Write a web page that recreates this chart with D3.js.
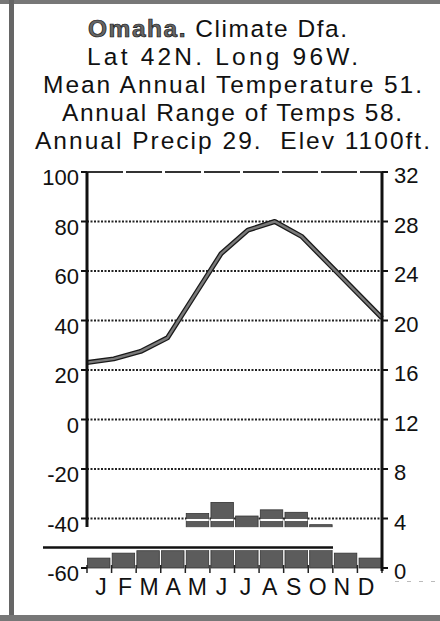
<!DOCTYPE html>
<html>
<head>
<meta charset="utf-8">
<script src="https://cdn.jsdelivr.net/npm/d3@7"></script>
<style>
  html, body { margin: 0; padding: 0; background: #fff; }
  svg { display: block; }
  text { font-family: "Liberation Sans", Arial, Helvetica, sans-serif; fill: #111; white-space: pre; }
</style>
</head>
<body>
<svg id="chart" width="440" height="621"></svg>
<script>
// ---- data ----
const months = ["J","F","M","A","M","J","J","A","S","O","N","D"];
const tempF = [23, 24.5, 27.5, 33, 50, 67, 76.5, 80, 74, 63, 52, 41];
const precip = [0.8, 1.2, 1.4, 1.4, 4.4, 5.3, 4.2, 4.7, 4.5, 3.5, 1.2, 0.8];
const tempTicks = [100, 80, 60, 40, 20, 0, -20, -40, -60];
const precipTicks = [32, 28, 24, 20, 16, 12, 8, 4, 0];
const titleLines = [
  "Omaha. Climate Dfa.",
  "Lat 42N. Long 96W.",
  "Mean Annual Temperature 51.",
  "Annual Range of Temps 58.",
  "Annual Precip 29.  Elev 1100ft."
];

const svg = d3.select("#chart");
const L = 87, R = 382, T = 172, B = 568;

const yT = d3.scaleLinear().domain([-60, 100]).range([B, T]);
const yP = d3.scaleLinear().domain([0, 32]).range([B, T]);
const xBand = d3.scaleBand().domain(d3.range(12)).range([L, R]).paddingInner(0.09).paddingOuter(0.02);
const xLine = d3.scalePoint().domain(d3.range(12)).range([L, R]);
const xLab = d3.scalePoint().domain(d3.range(12)).range([101, 366]);

// ---- frame ----
svg.append("rect").attr("x", 0).attr("y", 0).attr("width", 440).attr("height", 4).attr("fill", "#777");
svg.append("rect").attr("x", 9).attr("y", 0).attr("width", 5).attr("height", 621).attr("fill", "#666");
svg.append("rect").attr("x", 0).attr("y", 615).attr("width", 440).attr("height", 6).attr("fill", "#777");

// ---- title ----
const titleSpec = [
  {x0: 88, x1: 347, y: 37},
  {x0: 87, x1: 358, y: 65},
  {x0: 43, x1: 422, y: 93},
  {x0: 62, x1: 402, y: 121},
  {x0: 35, x1: 430, y: 149}
];
titleLines.forEach((t, i) => {
  const s = titleSpec[i];
  const txt = svg.append("text")
    .attr("x", s.x0).attr("y", s.y)
    .attr("font-size", 24.5)
    .attr("textLength", s.x1 - s.x0)
    .attr("lengthAdjust", "spacing");
  if (i === 0) {
    txt.append("tspan").attr("font-weight", "bold").attr("fill", "#666")
      .attr("stroke", "#111").attr("stroke-width", 0.7).text("Omaha.");
    txt.append("tspan").text(t.slice(6));
  } else {
    txt.text(t);
  }
});

// ---- gridlines ----
const g = svg.append("g");
tempTicks.filter(d => d !== 100 && d !== -60).forEach(d => {
  g.append("line").attr("x1", L).attr("x2", R).attr("y1", yT(d)).attr("y2", yT(d))
    .attr("stroke", "#222").attr("stroke-width", 2).attr("stroke-dasharray", "2,1.5");
});
g.append("line").attr("x1", L).attr("x2", R).attr("y1", yT(100)).attr("y2", yT(100))
  .attr("stroke", "#333").attr("stroke-width", 2).attr("stroke-dasharray", "36,3");

// ---- bars ----
svg.append("g").selectAll("rect").data(precip).join("rect")
  .attr("x", (d, i) => xBand(i))
  .attr("width", xBand.bandwidth())
  .attr("y", d => yP(d))
  .attr("height", d => yP(0) - yP(d))
  .attr("fill", "#5c5c5c")
  .attr("stroke", "#333").attr("stroke-width", 0.8);
// white stripe where the -40 line crosses tall bars
svg.append("g").selectAll("rect").data(precip).join("rect")
  .attr("x", (d, i) => xBand(i))
  .attr("width", xBand.bandwidth())
  .attr("y", yP(4) + 0.5)
  .attr("height", d => d > 4.2 ? 2 : 0)
  .attr("fill", "#fff");
// bar bottom ticks
svg.append("g").selectAll("line").data(d3.range(13)).join("line")
  .attr("x1", i => L + i * (R - L) / 12).attr("x2", i => L + i * (R - L) / 12)
  .attr("y1", B - 3).attr("y2", B + 5)
  .attr("stroke", "#222").attr("stroke-width", 1.5);

// scan gap band and rule
svg.append("rect").attr("x", 43).attr("y", yP(3.3)).attr("width", 333 - 43)
  .attr("height", yP(1.45) - yP(3.3)).attr("fill", "#fff");
svg.append("line").attr("x1", 43).attr("x2", 333).attr("y1", 547.5).attr("y2", 547.5)
  .attr("stroke", "#111").attr("stroke-width", 2.5);

// ---- temperature line ----
const line = d3.line().x((d, i) => xLine(i)).y(d => yT(d));
svg.append("path").datum(tempF).attr("d", line)
  .attr("fill", "none").attr("stroke", "#1a1a1a").attr("stroke-width", 5).attr("stroke-linejoin", "round");
svg.append("path").datum(tempF).attr("d", line)
  .attr("fill", "none").attr("stroke", "#7a7a7a").attr("stroke-width", 2.4).attr("stroke-linejoin", "round");

// ---- axes ----
svg.append("line").attr("x1", L).attr("x2", L).attr("y1", T).attr("y2", 527)
  .attr("stroke", "#111").attr("stroke-width", 3);
svg.append("line").attr("x1", R).attr("x2", R).attr("y1", T).attr("y2", B + 3)
  .attr("stroke", "#111").attr("stroke-width", 3);

tempTicks.forEach(d => {
  svg.append("line").attr("x1", L - 6).attr("x2", L).attr("y1", yT(d)).attr("y2", yT(d))
    .attr("stroke", "#111").attr("stroke-width", 2);
  svg.append("text").attr("x", 79).attr("y", yT(d) + 13).attr("text-anchor", "end")
    .attr("font-size", 22).text(d);
});
precipTicks.forEach(d => {
  svg.append("line").attr("x1", R).attr("x2", R + 6).attr("y1", yP(d)).attr("y2", yP(d))
    .attr("stroke", "#111").attr("stroke-width", 2);
  svg.append("text").attr("x", 394).attr("y", yP(d) + 11).attr("text-anchor", "start")
    .attr("font-size", 22).text(d);
});

// month labels
svg.append("g").selectAll("text").data(months).join("text")
  .attr("x", (d, i) => xLab(i)).attr("y", 595)
  .attr("text-anchor", "middle").attr("font-size", 23).text(d => d);

// faint scan dashes
svg.append("line").attr("x1", 395).attr("x2", 440).attr("y1", 581.5).attr("y2", 581.5)
  .attr("stroke", "#bbb").attr("stroke-width", 1.2).attr("stroke-dasharray", "4,8");
</script>
</body>
</html>
